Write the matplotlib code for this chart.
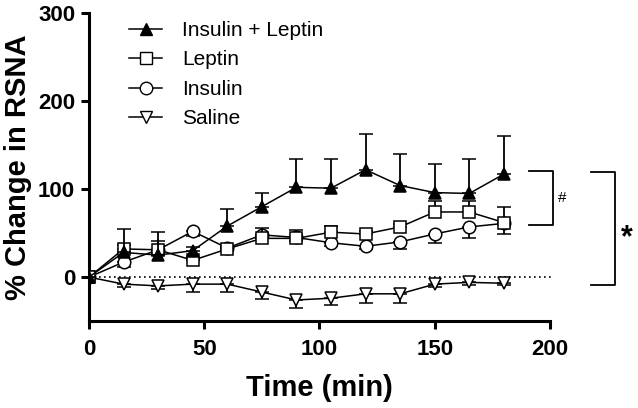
import matplotlib
matplotlib.use("Agg")
import matplotlib.pyplot as plt
from matplotlib.lines import Line2D

plt.rcParams['font.family'] = ['Liberation Sans', 'DejaVu Sans']

time = [0, 15, 30, 45, 60, 75, 90, 105, 120, 135, 150, 165, 180]

ins_lep = [0, 28, 25, 30, 58, 80, 102, 101, 122, 104, 96, 95, 117]
ins_lep_err = [0, 27, 26, 4, 19, 15, 32, 33, 41, 36, 33, 39, 43]

leptin = [0, 32, 31, 19, 32, 44, 44, 51, 49, 57, 74, 74, 62]
leptin_err = [0, 4, 10, 3, 3, 12, 10, 7, 3, 3, 12, 12, 18]

insulin = [0, 17, 31, 52, 33, 48, 45, 39, 35, 40, 49, 57, 61]
insulin_err = [0, 5, 5, 5, 3, 4, 4, 4, 3, 8, 10, 13, 12]

saline = [0, -8, -10, -8, -8, -17, -26, -24, -19, -19, -8, -6, -7]
saline_err = [0, 3, 3, 9, 9, 8, 9, 8, 10, 10, 3, 3, 2]

labels = ['Insulin + Leptin', 'Leptin', 'Insulin', 'Saline']

fig = plt.figure(figsize=(6.38, 4.08), dpi=100)
ax = fig.add_axes([0.1395, 0.213, 0.7225, 0.755])

zeros = [0] * len(time)
ax.plot([0, 201], [0, 0], ls=(0, (1, 2)), color='black', lw=1.2, zorder=1, clip_on=False)

common = dict(color='black', lw=1.1, capsize=5, elinewidth=1.3, capthick=1.3,
              markersize=9, markeredgewidth=1.1, markeredgecolor='black')

ax.errorbar(time, saline, yerr=[saline_err, zeros], fmt='-v', markerfacecolor='white', zorder=3, **common)
ax.errorbar(time, insulin, yerr=[insulin_err, zeros], fmt='-o', markerfacecolor='white', zorder=4, **common)
ax.errorbar(time, leptin, yerr=[zeros, leptin_err], fmt='-s', markerfacecolor='white', zorder=5, **common)
ax.errorbar(time, ins_lep, yerr=[zeros, ins_lep_err], fmt='-^', markerfacecolor='black', zorder=6, **common)

# significance brackets
ax.plot([191, 201.3, 201.3, 191], [120, 120, 59, 59], color='black', lw=1.3, clip_on=False)
ax.text(203.5, 90, '#', fontsize=11, ha='left', va='center')
ax.plot([217.8, 228.2, 228.2, 217.8], [119, 119, -9, -9], color='black', lw=1.3, clip_on=False)
ax.text(233.4, 44, '*', fontsize=22, fontweight='bold', ha='center', va='center')

ax.set_xlim(0, 200)
ax.set_ylim(-50, 300)
ax.set_xticks([0, 50, 100, 150, 200])
ax.set_yticks([0, 100, 200, 300])

for s in ['top', 'right']:
    ax.spines[s].set_visible(False)
for s in ['left', 'bottom']:
    ax.spines[s].set_linewidth(2.2)
ax.tick_params(width=2.2, length=6, labelsize=16)
ax.tick_params(axis='x', pad=7)
ax.tick_params(axis='y', pad=4)
for lab in ax.get_xticklabels() + ax.get_yticklabels():
    lab.set_fontweight('bold')

ax.set_xlabel('Time (min)', fontsize=21, fontweight='bold', labelpad=10)
ax.set_ylabel('% Change in RSNA', fontsize=21, fontweight='bold', labelpad=4)

handles = [
    Line2D([], [], color='black', lw=1.1, marker='^', markersize=9, markerfacecolor='black'),
    Line2D([], [], color='black', lw=1.1, marker='s', markersize=9, markerfacecolor='white'),
    Line2D([], [], color='black', lw=1.1, marker='o', markersize=9, markerfacecolor='white'),
    Line2D([], [], color='black', lw=1.1, marker='v', markersize=9, markerfacecolor='white'),
]
ax.legend(handles, labels, loc='upper left', bbox_to_anchor=(0.046, 1.035), frameon=False,
          fontsize=15, handlelength=1.6, handletextpad=0.95, labelspacing=0.5)

fig.savefig('out.png', dpi=100)
